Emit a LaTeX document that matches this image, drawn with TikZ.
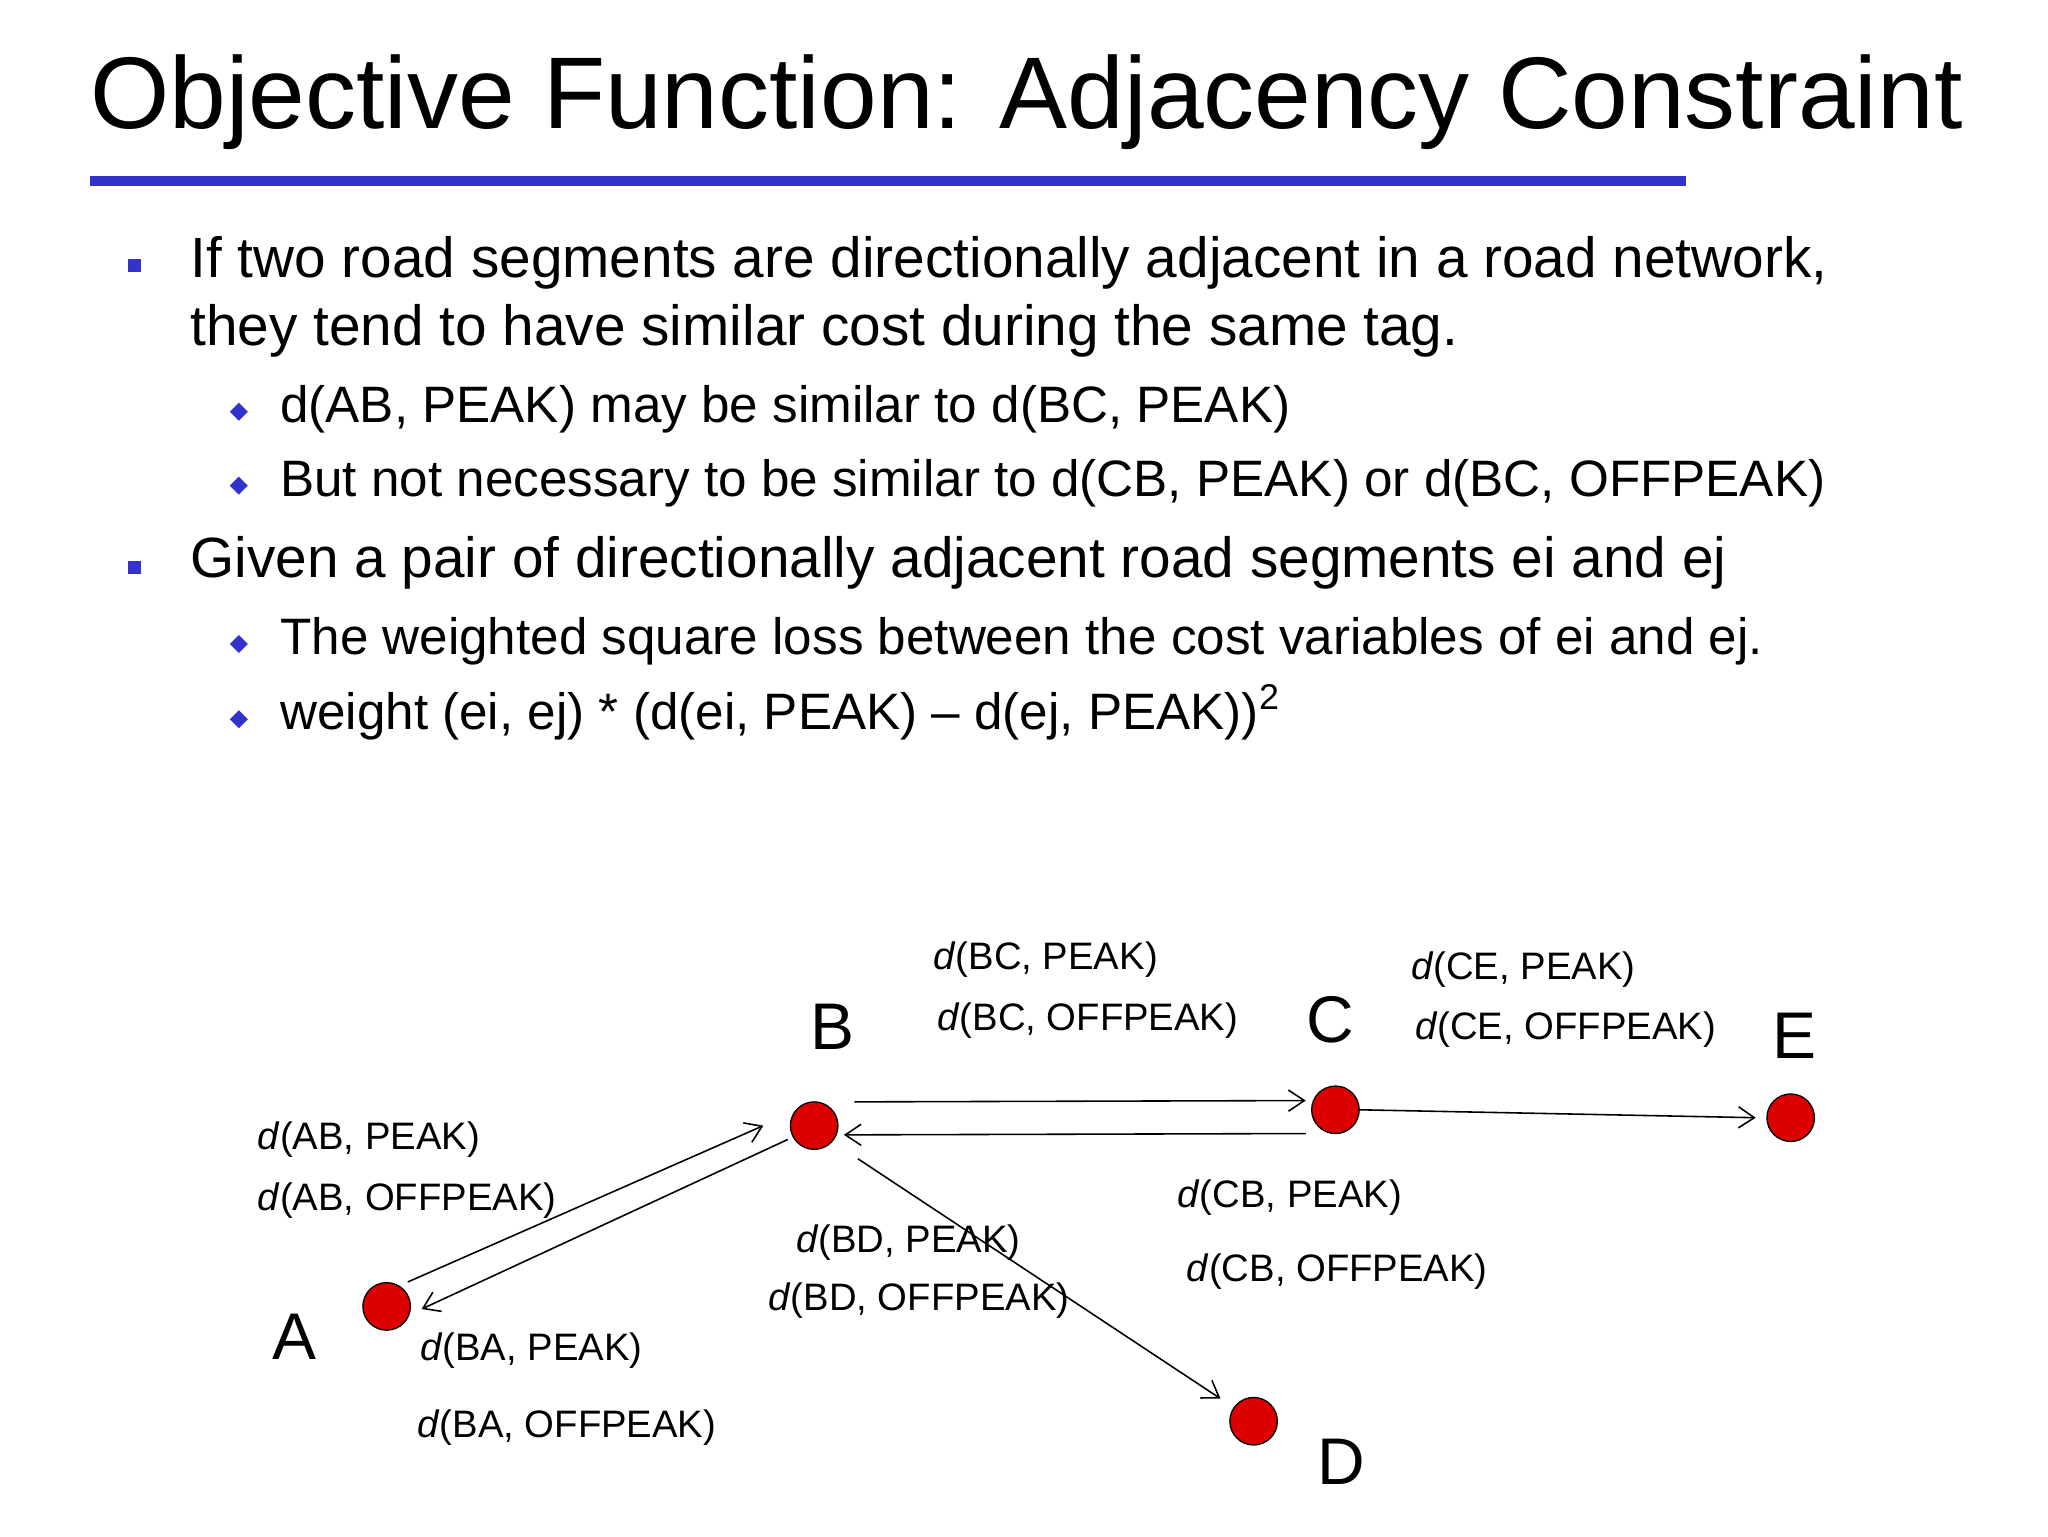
\documentclass[tikz,border=0pt]{standalone}
\usepackage{fontspec}
\setmainfont{Liberation Sans}
\usetikzlibrary{arrows.meta,shapes.geometric}
\definecolor{bl}{RGB}{51,51,204}
\definecolor{dot}{RGB}{220,0,0}
\tikzset{
 vtx/.style={circle,fill=dot,draw=black,line width=0.5pt,minimum size=18pt,inner sep=0pt},
 edge/.style={-{Straight Barb[length=6pt,width=8pt]},line width=0.6pt},
 lbl/.style={anchor=base west,font=\fontsize{14.5}{16}\selectfont,inner sep=0pt},
 let/.style={font=\fontsize{25}{28}\selectfont,inner sep=0pt,anchor=base west},
 t1/.style={anchor=base west,font=\fontsize{21.5}{24}\selectfont,inner sep=0pt},
 t2/.style={anchor=base west,font=\fontsize{19.4}{22}\selectfont,inner sep=0pt},
 sq/.style={fill=bl,minimum size=5pt,inner sep=0pt},
 dm/.style={diamond,fill=bl,minimum size=7pt,inner sep=0pt}
}
\begin{document}
\begin{tikzpicture}[x=0.5pt,y=-0.5pt]
\useasboundingbox (0,0) rectangle (1552,1164);
\node[anchor=base west,inner sep=0pt,font=\fontsize{38.6}{44}\selectfont] (title) at (68,97) {Objective Function: Adjacency Constraint};
\fill[bl] (68,133) rectangle (1278,141);
\node[sq] (s1) at (102,201) {};
\node[t1] (l1) at (144,210) {If two road segments are directionally adjacent in a road network,};
\node[t1] (l2) at (144,262) {they tend to have similar cost during the same tag.};
\node[dm] (d1) at (181,312) {};
\node[t2] (l3) at (212,320) {d(AB, PEAK) may be similar to d(BC, PEAK)};
\node[dm] (d2) at (181,368) {};
\node[t2] (l4) at (212,376) {But not necessary to be similar to d(CB, PEAK) or d(BC, OFFPEAK)};
\node[sq] (s2) at (102,430) {};
\node[t1] (l5) at (144,438) {Given a pair of directionally adjacent road segments ei and ej};
\node[dm] (d3) at (181,488) {};
\node[t2] (l6) at (212,496) {The weighted square loss between the cost variables of ei and ej.};
\node[dm] (d4) at (181,545) {};
\node[t2] (l7) at (212,553) {weight (ei, ej) * (d(ei, PEAK) -- d(ej, PEAK))\textsuperscript{2}};

\node[vtx] (A) at (293,990) {};
\node[vtx] (B) at (617,853) {};
\node[vtx] (C) at (1012,841) {};
\node[vtx] (E) at (1357,847) {};
\node[vtx] (D) at (950,1077) {};
\node[let] (la) at (206,1030) {A};
\node[let] (lb) at (614,795) {B};
\node[let] (lc) at (990,790) {C};
\node[let] (le) at (1343,802) {E};
\node[let] (ld) at (998,1125) {D};

\draw[edge] ([shift={(8pt,0pt)}]A.north) -- ([shift={(-10pt,0pt)}]B.west);
\draw[edge] ([shift={(-10pt,4pt)}]B.south) -- ([shift={(4pt,-1pt)}]A.east);
\draw[edge] ([shift={(6pt,9pt)}]B.east) -- ([shift={(-2pt,3.5pt)}]C.west);
\draw[edge] ([shift={(-2pt,-9pt)}]C.west) -- ([shift={(2pt,-3.5pt)}]B.east);
\draw[edge] (C.east) -- ([xshift=-4pt]E.west);
\draw[edge] ([shift={(10pt,-6pt)}]B.south east) -- ([shift={(-6pt,2pt)}]D.north west);

\node[lbl] at (707,735) {\textit{d}(BC, PEAK)};
\node[lbl] at (710,781) {\textit{d}(BC, OFFPEAK)};
\node[lbl] at (1069,742) {\textit{d}(CE, PEAK)};
\node[lbl] at (1072,788) {\textit{d}(CE, OFFPEAK)};
\node[lbl] at (195,871) {\textit{d}(AB, PEAK)};
\node[lbl] at (195,917) {\textit{d}(AB, OFFPEAK)};
\node[lbl] at (892,915) {\textit{d}(CB, PEAK)};
\node[lbl] at (899,971) {\textit{d}(CB, OFFPEAK)};
\node[lbl] at (603,949) {\textit{d}(BD, PEAK)};
\node[lbl] at (582,993) {\textit{d}(BD, OFFPEAK)};
\node[lbl] at (318,1031) {\textit{d}(BA, PEAK)};
\node[lbl] at (316,1089) {\textit{d}(BA, OFFPEAK)};
\end{tikzpicture}
\end{document}
